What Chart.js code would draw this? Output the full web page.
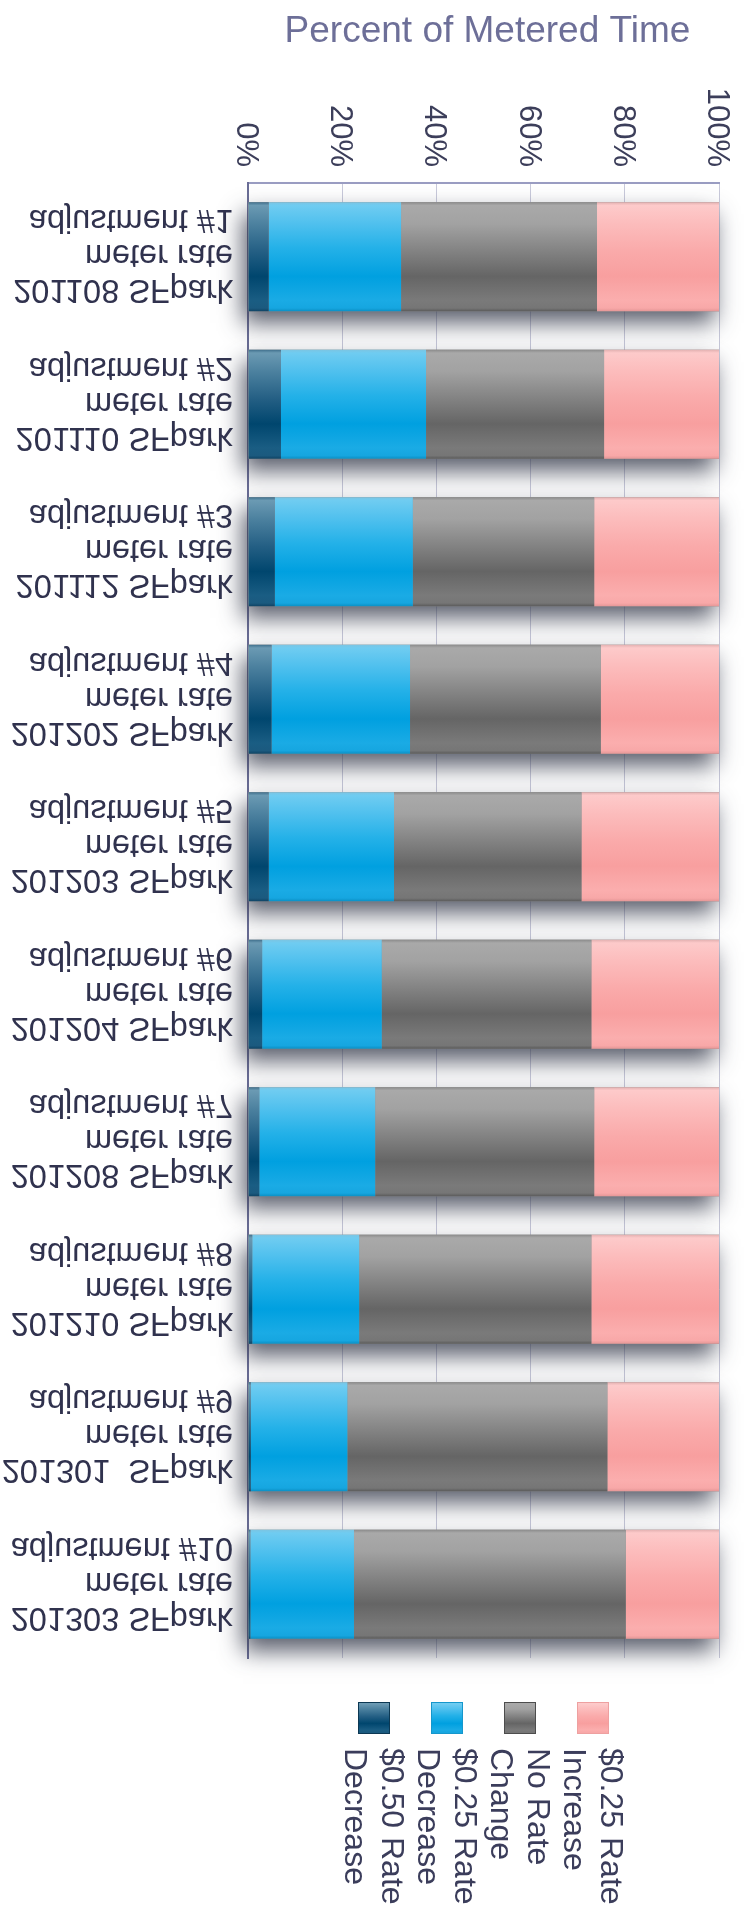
<!DOCTYPE html>
<html>
<head>
<meta charset="utf-8">
<script src="https://cdn.jsdelivr.net/npm/chart.js@4.4.1/dist/chart.umd.min.js"></script>
<style>
html,body{margin:0;padding:0;background:#fff;}
#wrap{position:relative;width:744px;height:1931px;overflow:hidden;background:#fff;}
#c{position:absolute;left:0;top:0;}
#legend{position:absolute;left:248px;top:1702px;width:471px;display:flex;justify-content:center;}
.item{width:73px;display:flex;flex-direction:column;align-items:center;}
.sw{width:30px;height:30px;border:1px solid #555;box-sizing:content-box;}
.lt{writing-mode:vertical-rl;font-family:"Liberation Sans",Arial,sans-serif;font-size:32px;line-height:37px;color:#3b3d5b;margin-top:14px;white-space:nowrap;}
</style>
</head>
<body>
<div id="wrap">
<canvas id="c" width="744" height="1931"></canvas>
<div id="legend"></div>
</div>
<script>
// ---------- DATA ----------
const categories = [
  ['201108 SFpark', 'meter rate', 'adjustment #1'],
  ['201110 SFpark', 'meter rate', 'adjustment #2'],
  ['201112 SFpark', 'meter rate', 'adjustment #3'],
  ['201202 SFpark', 'meter rate', 'adjustment #4'],
  ['201203 SFpark', 'meter rate', 'adjustment #5'],
  ['201204 SFpark', 'meter rate', 'adjustment #6'],
  ['201208 SFpark', 'meter rate', 'adjustment #7'],
  ['201210 SFpark', 'meter rate', 'adjustment #8'],
  ['201301  SFpark', 'meter rate', 'adjustment #9'],
  ['201303 SFpark', 'meter rate', 'adjustment #10']
];
const seriesNames = [
  ['$0.50 Rate', 'Decrease'],
  ['$0.25 Rate', 'Decrease'],
  ['No Rate', 'Change'],
  ['$0.25 Rate', 'Increase']
];
const decrease050 = [4.4, 7.0, 5.7, 5.0, 4.4, 3.0, 2.4, 0.9, 0.6, 0.5];
const decrease025 = [28.1, 30.8, 29.3, 29.4, 26.6, 25.4, 24.6, 22.7, 20.5, 22.0];
const noChange    = [41.6, 37.8, 38.5, 40.5, 39.8, 44.5, 46.5, 49.3, 55.2, 57.7];
const increase025 = [25.9, 24.4, 26.5, 25.1, 29.2, 27.1, 26.5, 27.1, 23.7, 19.8];
const tickValues = [0, 20, 40, 60, 80, 100];
const tickLabels = ['0%', '20%', '40%', '60%', '80%', '100%'];
const axisTitle = 'Percent of Metered Time';

// ---------- STYLES ----------
const gradStops = [
  [[0,'#3f6f8c'],[0.03,'#6b9ab3'],[0.2,'#4c819f'],[0.45,'#245f84'],[0.68,'#00466e'],[0.9,'#1a5d83'],[0.97,'#1b5a7f'],[1,'#0f4364']],
  [[0,'#7cc4e2'],[0.03,'#6fccf1'],[0.2,'#4fc0ee'],[0.42,'#24b1e8'],[0.68,'#00a0e0'],[0.9,'#1aabe5'],[0.97,'#16a6e0'],[1,'#0a8fc4']],
  [[0,'#8a8a8a'],[0.03,'#a9a9a9'],[0.2,'#a2a2a2'],[0.42,'#868686'],[0.68,'#656565'],[0.9,'#7a7a7a'],[0.97,'#767676'],[1,'#5a5a5a']],
  [[0,'#e2b0b0'],[0.03,'#fdcaca'],[0.2,'#fcbcbc'],[0.45,'#faaaaa'],[0.68,'#f89f9f'],[0.9,'#fbaeae'],[0.97,'#f8a8a8'],[1,'#e49696']]
];
const swatchBorders = ['#0c3853', '#1597cc', '#4d4d4d', '#eea0a0'];
const BAR_PCT = 0.74;
const FONT = '"Liberation Sans", Arial, sans-serif';

function barGradient(ctx, s) {
  const stops = gradStops[s];
  const chart = ctx.chart;
  const ys = chart.scales && chart.scales.y;
  if (!chart.chartArea || !ys || ctx.dataIndex === undefined) return stops[4][1];
  const c = ys.getPixelForValue(ctx.dataIndex);
  const band = Math.abs(ys.getPixelForValue(1) - ys.getPixelForValue(0));
  const h = band * BAR_PCT;
  const g = chart.ctx.createLinearGradient(0, c - h / 2, 0, c + h / 2);
  stops.forEach(st => g.addColorStop(st[0], st[1]));
  return g;
}

const shadowPlugin = {
  id: 'barShadow',
  beforeDatasetsDraw(chart) {
    const ctx = chart.ctx;
    const xs = chart.scales.x;
    const x0 = xs.getPixelForValue(0), x1 = xs.getPixelForValue(100);
    chart.getDatasetMeta(0).data.forEach(el => {
      const p = el.getProps(['y', 'height'], true);
      ctx.save();
      ctx.shadowColor = 'rgba(50,55,72,0.8)';
      ctx.shadowBlur = 22;
      ctx.shadowOffsetX = -5;
      ctx.shadowOffsetY = 12;
      ctx.fillStyle = '#8a8a8a';
      ctx.fillRect(x0, p.y - p.height / 2, x1 - x0, p.height);
      ctx.restore();
    });
  }
};

const textPlugin = {
  id: 'texts',
  afterDraw(chart) {
    const ctx = chart.ctx;
    const ca = chart.chartArea;
    const xs = chart.scales.x, ys = chart.scales.y;
    // title
    ctx.save();
    ctx.font = '37px ' + FONT;
    ctx.fillStyle = '#6d6f98';
    ctx.textAlign = 'center';
    ctx.textBaseline = 'alphabetic';
    ctx.fillText(axisTitle, (ca.left + ca.right) / 2 + 4, 42);
    ctx.restore();
    // tick labels, rotated clockwise
    ctx.save();
    ctx.font = '31px ' + FONT;
    ctx.fillStyle = '#3c3e5a';
    ctx.textAlign = 'right';
    ctx.textBaseline = 'alphabetic';
    tickValues.forEach((v, i) => {
      const px = xs.getPixelForValue(v);
      ctx.save();
      ctx.translate(px, ca.top - 16);
      ctx.rotate(Math.PI / 2);
      ctx.fillText(tickLabels[i], 0, 11);
      ctx.restore();
    });
    ctx.restore();
    // category labels, mirrored vertically
    ctx.save();
    ctx.font = '32.5px ' + FONT;
    ctx.fillStyle = '#30324e';
    ctx.textAlign = 'right';
    ctx.textBaseline = 'alphabetic';
    categories.forEach((lines, i) => {
      const yc = ys.getPixelForValue(i);
      ctx.save();
      ctx.translate(ca.left - 15, yc);
      ctx.scale(1, -1);
      lines.forEach((t, k) => ctx.fillText(t, 0, 11.3 + (k - 1) * 35));
      ctx.restore();
    });
    ctx.restore();
  }
};

const datasets = [decrease050, decrease025, noChange, increase025].map((d, s) => ({
  label: seriesNames[s].join(' '),
  data: d,
  backgroundColor: (ctx) => barGradient(ctx, s),
  borderWidth: 0,
  barPercentage: BAR_PCT,
  categoryPercentage: 1.0
}));

new Chart(document.getElementById('c'), {
  type: 'bar',
  data: { labels: categories.map(c => c.join(' ')), datasets },
  options: {
    indexAxis: 'y',
    responsive: false,
    animation: false,
    devicePixelRatio: 1,
    layout: { padding: { left: 248, right: 25, top: 183, bottom: 273 } },
    plugins: { legend: { display: false }, tooltip: { enabled: false }, title: { display: false } },
    scales: {
      x: {
        position: 'top',
        stacked: true,
        min: 0, max: 100,
        afterBuildTicks: (scale) => { scale.ticks = tickValues.map(v => ({ value: v })); },
        ticks: { display: false },
        grid: { color: '#c9cadb', lineWidth: 1, drawTicks: false },
        border: { display: true, color: '#9a9dc2', width: 2 }
      },
      y: {
        stacked: true,
        ticks: { display: false },
        grid: { display: false, drawTicks: false },
        border: { display: true, color: '#6a6d96', width: 2 }
      }
    }
  },
  plugins: [shadowPlugin, textPlugin]
});

// ---------- HTML legend ----------
const legend = document.getElementById('legend');
seriesNames.forEach((lines, s) => {
  const item = document.createElement('div');
  item.className = 'item';
  const sw = document.createElement('div');
  sw.className = 'sw';
  sw.style.borderColor = swatchBorders[s];
  sw.style.background = 'linear-gradient(to bottom,' + gradStops[s].slice(1, 7).map(st => st[1] + ' ' + Math.round(st[0] * 100) + '%').join(',') + ')';
  const lt = document.createElement('div');
  lt.className = 'lt';
  lines.forEach((t, k) => {
    if (k) lt.appendChild(document.createElement('br'));
    lt.appendChild(document.createTextNode(t));
  });
  item.appendChild(sw);
  item.appendChild(lt);
  legend.appendChild(item);
});
</script>
</body>
</html>
